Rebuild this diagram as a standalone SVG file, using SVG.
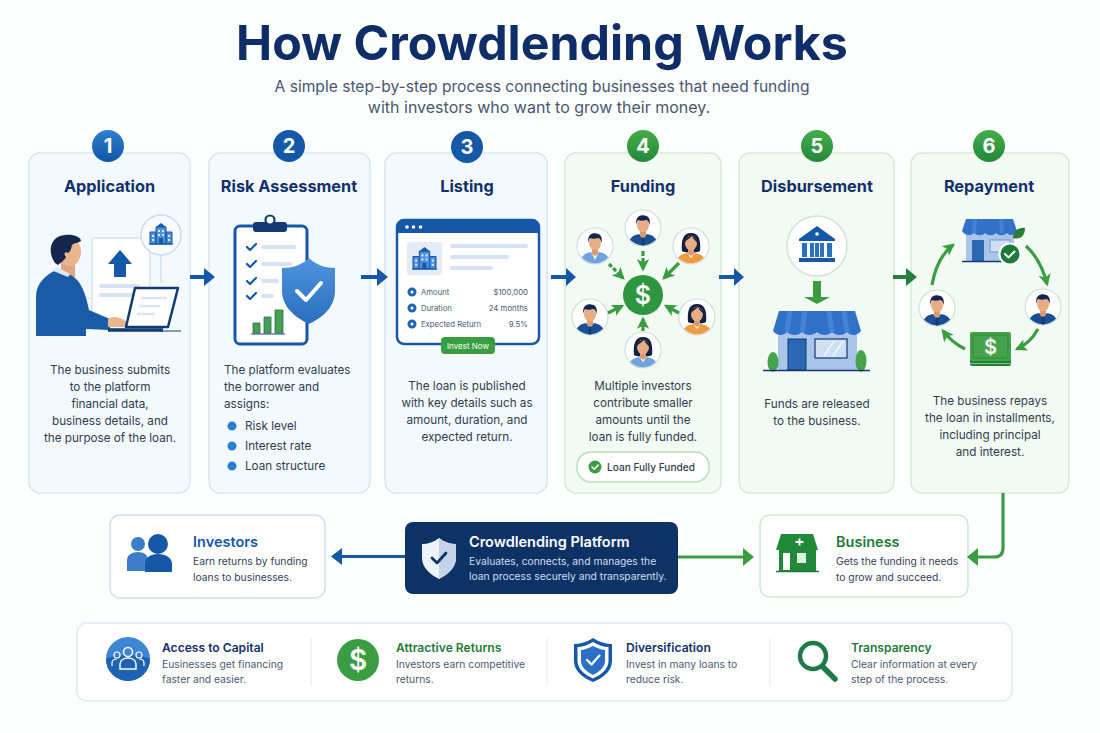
<svg xmlns="http://www.w3.org/2000/svg" width="1100" height="733" viewBox="0 0 1100 733">
<style>
text{font-family:"Inter","Liberation Sans",sans-serif}
.title{font-size:48.300px;font-weight:700;fill:#0f2d66;text-anchor:middle}
.sub{font-size:15.600px;fill:#47586f;text-anchor:middle}
.sub2{font-size:16px}
.card-b{fill:#f4f9fe;stroke:#d6e6f7;stroke-width:1.5}
.card-g{fill:#f3faf3;stroke:#d4ebd6;stroke-width:1.5}
.num{font-size:20px;font-weight:700;fill:#fff;text-anchor:middle}
.h{font-size:16.300px;font-weight:700;fill:#12306b;text-anchor:middle}
.body{font-size:11.700px;fill:#2f3d50;text-anchor:middle}
.bodyl{font-size:11.700px;fill:#2f3d50}
.row{font-size:7.700px;fill:#4a5a70}
.val{font-size:7.800px;fill:#4a5a70;text-anchor:end}
.nt{font-size:14.500px;font-weight:600}
.ns{font-size:10.300px;fill:#33415a}
.bt{font-size:12.100px;font-weight:600}
.bs{font-size:10.300px;fill:#4a5a70}
.line{stroke:#d5e2f3;stroke-width:4;stroke-linecap:round;fill:none}
.blue{fill:#1558a8}
.green{fill:#3a9d42}
.ga{fill:none;stroke:#3a9d42;stroke-width:3.2}
.ba{fill:none;stroke:#1558a8;stroke-width:3.2}
.chk{fill:none;stroke-linecap:round;stroke-linejoin:round}
</style>
<defs>
<linearGradient id="gb" x1="0" y1="0" x2="0" y2="1"><stop offset="0" stop-color="#2f80d0"/><stop offset="1" stop-color="#0f55a8"/></linearGradient>
<linearGradient id="gg" x1="0" y1="0" x2="0" y2="1"><stop offset="0" stop-color="#45ad4c"/><stop offset="1" stop-color="#23893a"/></linearGradient>
<linearGradient id="gs" x1="0" y1="0" x2="0" y2="1"><stop offset="0" stop-color="#4f94dc"/><stop offset="1" stop-color="#2a6fc0"/></linearGradient>
<marker id="mg" viewBox="0 0 10 10" refX="8" refY="5" markerWidth="3.800" markerHeight="3.800" orient="auto"><path d="M0 0L10 5L0 10L2.500 5Z" fill="#3a9d42"/></marker>
<symbol id="bld" viewBox="0 0 24 22" overflow="visible"><path d="M7 4h10v17H7z M1 9h6v12H1z M17 9h6v12h-6z" fill="#4f8fd8" stroke="#1558a8" stroke-width="1"/><path d="M12 0l5 4H7z" fill="#1558a8"/><path d="M10 15h4v6h-4z" fill="#1558a8"/><path d="M9 7h2v2H9zM13 7h2v2h-2zM9 11h2v2H9zM13 11h2v2h-2zM3 12h2v2H3zM3 16h2v2H3zM19 12h2v2h-2zM19 16h2v2h-2z" fill="#dce9f8"/><path d="M0 21h24" stroke="#1558a8" stroke-width="1.200"/></symbol>
<clipPath id="cav"><circle r="17.400"/></clipPath>
<g id="face"><path d="M-3 3h6v5l-3 2-3-2z" fill="#d99a70"/><ellipse cx="0" cy="-3" rx="6" ry="7.300" fill="#e7ae85"/></g>
<g id="mhair"><path d="M-6.600-3C-8-11-3-13 1-12.600 6-12.600 7.600-8 6.600-3 6-6 5-8 3-8 0-7-3-7-5-8-6-6-6.300-5-6.600-3Z" fill="#14264d"/></g>
<symbol id="mn" viewBox="-19 -19 38 38" overflow="visible"><circle r="18" fill="#fff" stroke="#cfe0dc" stroke-width="1.200"/><g clip-path="url(#cav)"><path d="M-15 20C-15 9-9 7-4 6H4C9 7 15 9 15 20Z" fill="#1a4f96"/><path d="M-4 6L0 11 4 6 3 4H-3Z" fill="#eef4fb"/><path d="M-1 9H1L1.500 18H-1.500Z" fill="#123a73"/><use href="#face"/><use href="#mhair"/></g></symbol>
<symbol id="ml" viewBox="-19 -19 38 38" overflow="visible"><circle r="18" fill="#fff" stroke="#cfe0dc" stroke-width="1.200"/><g clip-path="url(#cav)"><path d="M-15 20C-15 9-9 7-4 6H4C9 7 15 9 15 20Z" fill="#6fa3dc"/><path d="M-4 6L0 14 4 6 3 4H-3Z" fill="#eef4fb"/><use href="#face"/><use href="#mhair"/></g></symbol>
<symbol id="fo" viewBox="-19 -19 38 38" overflow="visible"><circle r="18" fill="#fff" stroke="#cfe0dc" stroke-width="1.200"/><g clip-path="url(#cav)"><path d="M-9 5C-10-6-8-13 0-13 8-13 10-6 9 5 6 7-6 7-9 5Z" fill="#14223f"/><path d="M-15 20C-15 10-9 8-4 7H4C9 8 15 10 15 20Z" fill="#f19a3e"/><path d="M-4 7L0 12 4 7Z" fill="#fff"/><use href="#face"/><path d="M-6.500-3C-6-9-2-10 1-10-2-7-5-6-6.500-3ZM6.500-3C6-7 4-9 1-10 2-7 5-5 6.500-3Z" fill="#14223f"/></g></symbol>
<symbol id="fl" viewBox="-19 -19 38 38" overflow="visible"><circle r="18" fill="#fff" stroke="#cfe0dc" stroke-width="1.200"/><g clip-path="url(#cav)"><path d="M-9 5C-10-6-8-13 0-13 8-13 10-6 9 5 6 7-6 7-9 5Z" fill="#14223f"/><path d="M-15 20C-15 10-9 8-4 7H4C9 8 15 10 15 20Z" fill="#6fa3dc"/><path d="M-4 7L0 12 4 7Z" fill="#fff"/><use href="#face"/><path d="M-6.500-3C-6-9-2-10 1-10-2-7-5-6-6.500-3ZM6.500-3C6-7 4-9 1-10 2-7 5-5 6.500-3Z" fill="#14223f"/></g></symbol>
</defs>
<rect width="1100" height="733" fill="#fdfefe"/>

<g id="header">
<text class="title" x="542" y="60">How Crowdlending Works</text>
<text class="sub" x="542" y="92">A simple step-by-step process connecting businesses that need funding</text>
<text class="sub sub2" x="539" y="113">with investors who want to grow their money.</text>
</g>

<g id="step1">
<rect class="card-b" x="29" y="153" width="161" height="340" rx="11"/>
<circle cx="108" cy="146" r="16" fill="url(#gb)"/><text class="num" x="108" y="153">1</text>
<text class="h" x="109.500" y="192">Application</text>
<rect x="92" y="238" width="58" height="84" rx="2" fill="#fff" stroke="#d4e2f3" stroke-width="1.500"/>
<path d="M120 250L132 264H126V277H114V264H108Z" class="blue"/>
<path class="line" d="M101 286H138M101 295H132"/>
<path d="M161 255V283" stroke="#c9dcf1" stroke-width="1.200"/>
<path d="M92 298H84" stroke="#d4e2f3" stroke-width="1.200"/>
<circle cx="161" cy="235" r="20" fill="#f7fbff" stroke="#c9dcf1" stroke-width="1.500"/>
<use href="#bld" x="149" y="223" width="24" height="22"/>
<path d="M61 258H75V277H61Z" fill="#e2a67e"/>
<path d="M36 336V297C36 283 46 275 56 270L67 274C76 276 84 284 89 310L110 319V330L86 329V336Z" fill="#1a5ba8"/>
<path d="M51 270L57 267 70 274 68 277Z" fill="#dfeaf6"/>
<ellipse cx="70" cy="252" rx="11" ry="14" fill="#eab48d"/>
<path d="M55 263C47 252 50 236 65 235 73 234 81 237 81 241 78 243 74 243 72 245 71 250 70 252 68 253 65 251 63 254 66 257 64 261 60 263 58 265Z" fill="#14264d"/>
<path d="M108 319C112 316 120 316 127 322L125 327 108 327Z" fill="#eab48d"/>
<path d="M135 288H178L168 327H126Z" fill="#fff" stroke="#123a73" stroke-width="2.500" stroke-linejoin="round"/>
<path d="M141 298H167M139 306H160M137 314H155" stroke="#dbe6f4" stroke-width="2.500"/>
<path d="M108 330H163" stroke="#123a73" stroke-width="3.500"/>
<path d="M160 331H181" stroke="#123a73" stroke-width="1"/>
<text class="body"><tspan x="110" y="374">The business submits</tspan><tspan x="110" y="391">to the platform</tspan><tspan x="110" y="408">financial data,</tspan><tspan x="110" y="425">business details, and</tspan><tspan x="110" y="442">the purpose of the loan.</tspan></text>
</g>

<g id="step2">
<rect class="card-b" x="209" y="153" width="161" height="340" rx="11"/>
<circle cx="289" cy="146" r="16" fill="#1558a8"/><text class="num" x="289" y="153">2</text>
<text class="h" x="289" y="192">Risk Assessment</text>
<rect x="235" y="226" width="72" height="118" rx="5" fill="#fff" stroke="#1558a8" stroke-width="3"/>
<rect x="253" y="222" width="34" height="10" rx="3" fill="#123a73"/>
<circle cx="270" cy="220" r="4.500" fill="#fff" stroke="#123a73" stroke-width="2.200"/>
<g class="chk" stroke="#1558a8" stroke-width="2.200"><path d="M247 247l3 3 6-6M247 264l3 3 6-6M247 281l3 3 6-6M247 296l3 3 6-6"/></g>
<path class="line" d="M263 247H294M263 264H290M263 281H277M263 296H272"/>
<path d="M253 323h7v10h-7zM264 317h7v16h-7zM275 310h8v23h-8z" fill="#4aa04f" stroke="#1f6f5f" stroke-width=".8"/>
<path d="M251 334H285" stroke="#123a73" stroke-width="1"/>
<path d="M309 258C316 265 326 268 335 268V291C335 307 322 318 309 324 296 318 282 307 282 291V268C292 268 302 265 309 258Z" fill="url(#gs)"/>
<path class="chk" d="M297 291l9 9 15-17" stroke="#fff" stroke-width="4"/>
<text class="bodyl" x="224" y="374">The platform evaluates</text>
<text class="bodyl" x="224" y="391">the borrower and</text>
<text class="bodyl" x="224" y="408">assigns:</text>
<circle cx="232" cy="426" r="4.500" fill="#2f7fd0"/><text class="bodyl" x="245" y="430">Risk level</text>
<circle cx="232" cy="446" r="4.500" fill="#2f7fd0"/><text class="bodyl" x="245" y="450">Interest rate</text>
<circle cx="232" cy="466" r="4.500" fill="#2f7fd0"/><text class="bodyl" x="245" y="470">Loan structure</text>
</g>

<g id="step3">
<rect class="card-b" x="385" y="153" width="162" height="340" rx="11"/>
<circle cx="467" cy="147" r="16" fill="#1558a8"/><text class="num" x="467" y="154">3</text>
<text class="h" x="467" y="192">Listing</text>
<rect x="397" y="220" width="142" height="124" rx="7" fill="#fff" stroke="#1558a8" stroke-width="2.500"/>
<path d="M397 233V226a6 6 0 0 1 6-6H533a6 6 0 0 1 6 6V233Z" class="blue"/>
<circle cx="407" cy="227" r="1.800" fill="#fff"/><circle cx="413.500" cy="227" r="1.800" fill="#fff"/><circle cx="420.500" cy="227" r="1.800" fill="#fff"/>
<rect x="407" y="242" width="35" height="33" rx="3" fill="#e4ecf7"/>
<use href="#bld" x="412" y="247" width="25" height="23"/>
<path class="line" d="M452 246H526M452 257H507M452 268H491"/>
<g fill="#1f68b8"><circle cx="412" cy="292" r="4.500"/><circle cx="412" cy="308" r="4.500"/><circle cx="412" cy="324" r="4.500"/></g>
<g fill="#fff"><circle cx="412" cy="292" r="1.500"/><circle cx="412" cy="308" r="1.500"/><circle cx="412" cy="324" r="1.500"/></g>
<text class="row" x="421" y="295">Amount</text><text class="val" x="528" y="295">$100,000</text>
<text class="row" x="421" y="311">Duration</text><text class="val" x="528" y="311">24 months</text>
<text class="row" x="421" y="327">Expected Return</text><text class="val" x="528" y="327">9.5%</text>
<rect x="441" y="337" width="54" height="17" rx="4" fill="#3a9d42"/>
<text x="468" y="349" font-size="8" fill="#fff" text-anchor="middle">Invest Now</text>
<text class="body"><tspan x="467" y="390">The loan is published</tspan><tspan x="467" y="407">with key details such as</tspan><tspan x="467" y="424">amount, duration, and</tspan><tspan x="467" y="441">expected return.</tspan></text>
</g>

<g id="step4">
<rect class="card-g" x="565" y="153" width="156" height="340" rx="11"/>
<circle cx="643" cy="146" r="16" fill="url(#gg)"/><text class="num" x="643" y="153">4</text>
<text class="h" x="643" y="192">Funding</text>
<use href="#mn" x="624" y="209" width="38" height="38"/>
<use href="#ml" x="576" y="227" width="38" height="38"/>
<use href="#fo" x="672" y="227" width="38" height="38"/>
<use href="#mn" x="571" y="298" width="38" height="38"/>
<use href="#fo" x="678" y="298" width="38" height="38"/>
<use href="#fl" x="624" y="331" width="38" height="38"/>
<g class="ga">
<path d="M609 264L623 278" stroke-dasharray="4 2" marker-end="url(#mg)"/><path d="M643 251V269" stroke-dasharray="5 2" marker-end="url(#mg)"/><path d="M679 263L664 278" marker-end="url(#mg)"/><path d="M608 313L622 306" marker-end="url(#mg)"/><path d="M679 313L666 306" marker-end="url(#mg)"/><path d="M643 331V319" marker-end="url(#mg)"/>
</g>
<circle cx="643" cy="295" r="20" fill="#2f9640"/>
<text x="643" y="304" font-size="25" font-weight="600" fill="#fff" text-anchor="middle">$</text>
<text class="body"><tspan x="643" y="390">Multiple investors</tspan><tspan x="643" y="407">contribute smaller</tspan><tspan x="643" y="424">amounts until the</tspan><tspan x="643" y="441">loan is fully funded.</tspan></text>
<rect x="577" y="452" width="132" height="30" rx="14" fill="#fff" stroke="#b9dfbd" stroke-width="1.500"/>
<circle cx="595" cy="467" r="6.500" fill="#3a9d42"/>
<path class="chk" d="M592 467l2.200 2.200 4-4.200" stroke="#fff" stroke-width="1.500"/>
<text x="607" y="471" font-size="10.100" font-weight="500" fill="#2f3d50">Loan Fully Funded</text>
</g>

<g id="step5">
<rect class="card-g" x="739" y="153" width="155" height="340" rx="11"/>
<circle cx="817" cy="146" r="16" fill="url(#gg)"/><text class="num" x="817" y="153">5</text>
<text class="h" x="817" y="192">Disbursement</text>
<circle cx="817" cy="246" r="30" fill="#fff" stroke="#cfe3d6" stroke-width="1.500"/>
<path d="M817 226L835 239V241H799V239Z" class="blue"/><circle cx="817" cy="234" r="1.800" fill="#fff"/>
<path d="M802 243h5v14h-5zM810 243h4v14h-4zM815 243h4v14h-4zM820 243h4v14h-4zM827 243h5v14h-5z" fill="#2a6fc0"/>
<path d="M799 258H835V262H799Z" class="blue"/>
<path d="M813 281H821V297H830L817 304 804 297H813Z" class="green"/>
<rect x="778" y="330" width="79" height="40" fill="#a9c6ea"/>
<path d="M773 331L779 311H855L861 331C857 336 851 336 847 332 843 336 836 336 832 332 828 336 821 336 817 332 813 336 806 336 802 332 798 336 791 336 787 332 783 336 777 336 773 331Z" fill="#2f72c8"/>
<path d="M790 311L787 332M805 311L802 332M829 311L832 332M844 311L847 332" stroke="#4f8fdc" stroke-width="5" opacity=".6"/>
<rect x="788" y="339" width="18" height="31" fill="#2b68b4" stroke="#123a73"/>
<rect x="815" y="339" width="32" height="19" fill="#cfe0f5" stroke="#123a73" stroke-width="1.200"/>
<path d="M824 356L834 341M833 356L843 341" stroke="#fff" stroke-width="1.200"/>
<ellipse cx="773" cy="362" rx="5.500" ry="10" fill="#45a34c"/><ellipse cx="861" cy="361" rx="5.500" ry="11" fill="#45a34c"/>
<path d="M763 370.500H870" stroke="#123a73" stroke-width="1.500"/>
<text class="body"><tspan x="817" y="408">Funds are released</tspan><tspan x="817" y="425">to the business.</tspan></text>
</g>

<g id="step6">
<rect class="card-g" x="911" y="153" width="158" height="340" rx="11"/>
<circle cx="989" cy="146" r="16" fill="url(#gg)"/><text class="num" x="989" y="153">6</text>
<text class="h" x="989" y="192">Repayment</text>
<rect x="966" y="233" width="48" height="28" fill="#a9c6ea"/>
<path d="M962 231L966 219H1013L1017 231C1014 236 1010 236 1007 233 1004 236 999 236 996 233 993 236 988 236 985 233 982 236 977 236 974 233 971 236 965 236 962 231Z" fill="#2f72c8"/>
<path d="M975 219L974 233M1001 219L1002 233" stroke="#4f8fdc" stroke-width="4" opacity=".6"/>
<rect x="972" y="240" width="12" height="21" fill="#2b68b4"/>
<rect x="990" y="240" width="20" height="12" fill="#cfe0f5" stroke="#6d9ad2"/>
<path d="M962 261.500H1010" stroke="#123a73" stroke-width="1.500"/>
<path d="M1013 238C1013 230 1020 227 1025 228 1025 236 1020 240 1013 238Z" fill="#2c7d3a"/>
<circle cx="1010" cy="254" r="10.500" fill="#1f7a3a" stroke="#fff" stroke-width="2"/>
<path class="chk" d="M1005 254l3.500 3.500 6-6" stroke="#fff" stroke-width="2"/>
<use href="#mn" x="918" y="289" width="38" height="38"/>
<use href="#mn" x="1024" y="288" width="38" height="38"/>
<rect x="970" y="336" width="41" height="30" rx="2" fill="#23803a"/>
<path d="M970 363.500H1011" stroke="#7cc584" stroke-width="1"/>
<rect x="970" y="332" width="41" height="29" rx="2" fill="#45a34c"/>
<rect x="973" y="335" width="35" height="23" rx="1" fill="none" stroke="#2c8a3a" stroke-width="1"/>
<text x="990.500" y="354" font-size="20" font-weight="600" fill="#fff" text-anchor="middle">$</text>
<g class="ga" stroke-width="3">
<path d="M932 285C935 268 941 254 953 245" marker-end="url(#mg)"/>
<path d="M1026 246C1036 255 1043 268 1047 284" marker-end="url(#mg)"/>
<path d="M1038 329C1033 338 1026 345 1017 349" marker-end="url(#mg)"/>
<path d="M965 349C957 345 950 340 943 331" marker-end="url(#mg)"/>
</g>
<text class="body"><tspan x="990" y="405">The business repays</tspan><tspan x="990" y="422">the loan in installments,</tspan><tspan x="990" y="439">including principal</tspan><tspan x="990" y="456">and interest.</tspan></text>
</g>

<g id="investors">
<rect x="110" y="515" width="215" height="83" rx="10" fill="#fff" stroke="#cfe0f5" stroke-width="1.500"/>
<circle cx="138" cy="544" r="7" fill="#3c7cc8"/><path d="M127 571V560C127 555 132 552 138 552 144 552 148 555 148 560V571Z" fill="#3c7cc8"/>
<circle cx="158" cy="544" r="10" fill="#1558a8"/><path d="M145 572V564C145 558 150 554 158 554 166 554 172 558 172 564V572Z" fill="#1558a8"/>
<text class="nt" x="193" y="547" fill="#1558a8">Investors</text>
<text class="ns"><tspan x="193" y="565">Earn returns by funding</tspan><tspan x="193" y="581">loans to businesses.</tspan></text>
</g>

<g id="platform">
<rect x="405" y="522" width="273" height="72" rx="8" fill="#0d3266"/>
<path d="M439 538C444 542 450 544 456 544V558C456 568 447 575 439 579 431 575 422 568 422 558V544C428 544 434 542 439 538Z" fill="#eef3fa"/>
<path d="M439 538V579C447 575 456 568 456 558V544C450 544 444 542 439 538Z" fill="#c3d4ea"/>
<path class="chk" d="M432 558l5 5 9-10" stroke="#0d3266" stroke-width="2.800"/>
<text class="nt" x="469" y="547" fill="#fff">Crowdlending Platform</text>
<text class="ns" style="fill:#d3deee"><tspan x="469" y="565">Evaluates, connects, and manages the</tspan><tspan x="469" y="580">loan process securely and transparently.</tspan></text>
</g>

<g id="business">
<rect x="760" y="515" width="208" height="82" rx="10" fill="#fff" stroke="#cfe8cf" stroke-width="1.500"/>
<path d="M781 534H813L818 550H776Z" fill="#23893a"/>
<path d="M795.500 541h3v-2.500h2v2.500h3v2h-3v2.500h-2v-2.500h-3z" fill="#fff"/>
<rect x="779" y="550" width="37" height="21" fill="#23893a"/>
<rect x="783" y="553" width="7" height="17" fill="#fff"/><rect x="797" y="553" width="9" height="10" fill="#dcefdc"/>
<path d="M776 571.500H819" stroke="#1f7a3a" stroke-width="1.500"/>
<text class="nt" x="836" y="547" fill="#1f7a3a">Business</text>
<text class="ns"><tspan x="836" y="565">Gets the funding it needs</tspan><tspan x="836" y="581">to grow and succeed.</tspan></text>
</g>

<g id="connectors">
<g class="blue">
<path d="M190 275H204V268L215 277 204 286V279H190Z"/>
<path d="M361 275H377V268L388 277 377 286V279H361Z"/>
<path d="M551 275H566V268L576 277 566 286V279H551Z"/>
<path d="M719 275H734V268L744 277 734 286V279H719Z"/>
</g>
<path d="M893 275H906V268L917 277 906 286V279H893Z" fill="#25803f"/>
<path d="M405 556.500H340" class="ba" stroke-width="4"/>
<path d="M342 548L331 556.500 342 565Z" class="blue"/>
<path d="M678 557H744" class="ga" stroke-width="4"/>
<path d="M743 548L754 557 743 566Z" class="green"/>
<path d="M1003 493V548Q1003 557 994 557H976" class="ga" stroke-width="4"/>
<path d="M978 548L967 557 978 566Z" class="green"/>
</g>

<g id="benefits">
<rect x="77" y="623" width="935" height="78" rx="10" fill="#fff" stroke="#e1e9f4" stroke-width="1.500"/>
<path d="M311 638V686M547 638V686M770 638V686" stroke="#e3eaf4" stroke-width="1"/>
</g>
<g id="benefit-capital">
<circle cx="128" cy="659" r="22" fill="#3c86d4"/>
<path d="M106 659A22 22 0 0 0 150 659C143 654 113 654 106 659Z" fill="#1e63b4"/>
<circle cx="128" cy="652" r="4.500" fill="none" stroke="#fff" stroke-width="1.500"/><path d="M120 669V664C120 660 124 658 128 658 132 658 136 660 136 664V669Z" fill="none" stroke="#fff" stroke-width="1.500"/>
<circle cx="117" cy="655" r="3" fill="none" stroke="#fff" stroke-width="1.200"/><path d="M112 666V663C112 660 114 659 117 659" fill="none" stroke="#fff" stroke-width="1.200"/>
<circle cx="139" cy="655" r="3" fill="none" stroke="#fff" stroke-width="1.200"/><path d="M144 666V663C144 660 142 659 139 659" fill="none" stroke="#fff" stroke-width="1.200"/>
<text class="bt" x="162" y="652" fill="#12306b">Access to Capital</text>
<text class="bs"><tspan x="162" y="668">Eusinesses get financing</tspan><tspan x="162" y="683">faster and easier.</tspan></text>
</g>
<g id="benefit-returns">
<circle cx="358" cy="660" r="21" fill="#3a9d42"/>
<text x="358" y="670" font-size="28" font-weight="600" fill="#fff" text-anchor="middle">$</text>
<text class="bt" x="396" y="652" fill="#1f7a3a">Attractive Returns</text>
<text class="bs"><tspan x="396" y="668">Investors earn competitive</tspan><tspan x="396" y="683">returns.</tspan></text>
</g>
<g id="benefit-diversification">
<path d="M593 638C599 642 606 644 612 644V661C612 671 603 678 593 682 583 678 574 671 574 661V644C580 644 587 642 593 638Z" fill="#1558a8"/>
<path d="M593 642C598 645 604 647 608.500 647V661C608.500 669 601 675 593 678.500 585 675 577.500 669 577.500 661V647C582 647 588 645 593 642Z" fill="#fff"/>
<path d="M593 646C597 648 602 650 605 650V661C605 667 599 672 593 675 587 672 581 667 581 661V650C584 650 589 648 593 646Z" fill="#2a70c4"/>
<path class="chk" d="M587 660l4.500 4.500 8-9" stroke="#fff" stroke-width="2.200"/>
<text class="bt" x="626" y="652" fill="#12306b">Diversification</text>
<text class="bs"><tspan x="626" y="668">Invest in many loans to</tspan><tspan x="626" y="683">reduce risk.</tspan></text>
</g>
<g id="benefit-transparency">
<circle cx="813" cy="656" r="13" fill="none" stroke="#1f7a4a" stroke-width="4.500"/>
<path d="M823 667L835 679" stroke="#1f7a4a" stroke-width="5.500" stroke-linecap="round"/>
<text class="bt" x="851" y="652" fill="#1f7a3a">Transparency</text>
<text class="bs"><tspan x="851" y="668">Clear information at every</tspan><tspan x="851" y="683">step of the process.</tspan></text>
</g>
</svg>
